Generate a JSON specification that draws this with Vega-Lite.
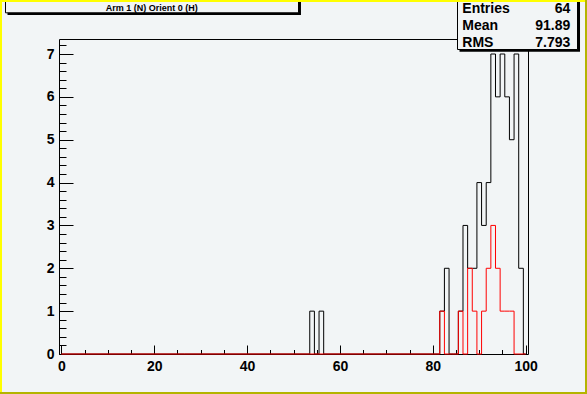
{
  "$schema": "https://vega.github.io/schema/vega-lite/v6.json",
  "width": 469,
  "height": 315,
  "autosize": {"type": "none"},
  "padding": {"left": 59, "top": 39, "right": 59, "bottom": 40},
  "background": "#f2f5f6",
  "config": {
    "view": {"stroke": "#000000", "strokeWidth": 1, "fill": null},
    "axis": {
      "labelFont": "Liberation Sans",
      "labelFontWeight": "bold",
      "labelFontSize": 14,
      "labelColor": "#000000",
      "tickColor": "#000000",
      "tickWidth": 1,
      "domain": false,
      "grid": false,
      "labelFlush": false,
      "labelOverlap": false
    }
  },
  "datasets": {
    "total": [
      {"bin": 0, "count": 0}, {"bin": 53, "count": 0}, {"bin": 54, "count": 1}, {"bin": 55, "count": 0},
      {"bin": 56, "count": 1}, {"bin": 57, "count": 0}, {"bin": 81, "count": 0}, {"bin": 82, "count": 1},
      {"bin": 83, "count": 2}, {"bin": 84, "count": 0}, {"bin": 85, "count": 0}, {"bin": 86, "count": 1},
      {"bin": 87, "count": 3}, {"bin": 88, "count": 2}, {"bin": 89, "count": 2}, {"bin": 90, "count": 4},
      {"bin": 91, "count": 3}, {"bin": 92, "count": 4}, {"bin": 93, "count": 7}, {"bin": 94, "count": 6},
      {"bin": 95, "count": 7}, {"bin": 96, "count": 6}, {"bin": 97, "count": 5}, {"bin": 98, "count": 7},
      {"bin": 99, "count": 2}, {"bin": 100, "count": 0}
    ],
    "subset": [
      {"bin": 0, "count": 0}, {"bin": 81, "count": 0}, {"bin": 82, "count": 1}, {"bin": 83, "count": 0},
      {"bin": 85, "count": 0}, {"bin": 86, "count": 1}, {"bin": 87, "count": 0}, {"bin": 88, "count": 2},
      {"bin": 89, "count": 1}, {"bin": 90, "count": 0}, {"bin": 91, "count": 1}, {"bin": 92, "count": 2},
      {"bin": 93, "count": 3}, {"bin": 94, "count": 2}, {"bin": 95, "count": 1}, {"bin": 96, "count": 1},
      {"bin": 97, "count": 1}, {"bin": 98, "count": 0}, {"bin": 100, "count": 0}
    ]
  },
  "layer": [
    {
      "data": {"name": "total"},
      "mark": {"type": "line", "interpolate": "step", "color": "#000000", "strokeWidth": 1},
      "encoding": {
        "x": {"field": "bin", "type": "quantitative", "scale": {"domain": [-0.5, 100.5], "nice": false, "zero": false},
              "axis": {"orient": "bottom", "values": [0, 20, 40, 60, 80, 100], "tickSize": -9, "labelPadding": 14, "title": null}},
        "y": {"field": "count", "type": "quantitative", "scale": {"domain": [0, 7.35], "nice": false, "zero": false},
              "axis": {"orient": "left", "values": [0, 1, 2, 3, 4, 5, 6, 7], "tickSize": -14, "labelPadding": 19, "title": null}}
      }
    },
    {
      "data": {"name": "subset"},
      "mark": {"type": "line", "interpolate": "step", "color": "#ff0000", "strokeWidth": 1},
      "encoding": {
        "x": {"field": "bin", "type": "quantitative", "scale": {"domain": [-0.5, 100.5], "nice": false, "zero": false},
              "axis": {"orient": "bottom", "values": [0, 5, 10, 15, 20, 25, 30, 35, 40, 45, 50, 55, 60, 65, 70, 75, 80, 85, 90, 95, 100], "tickSize": -4.5, "labels": false, "title": null}},
        "y": {"field": "count", "type": "quantitative", "scale": {"domain": [0, 7.35], "nice": false, "zero": false},
              "axis": {"orient": "left", "values": [0, 0.2, 0.4, 0.6, 0.8, 1, 1.2, 1.4, 1.6, 1.8, 2, 2.2, 2.4, 2.6, 2.8, 3, 3.2, 3.4, 3.6, 3.8, 4, 4.2, 4.4, 4.6, 4.8, 5, 5.2, 5.4, 5.6, 5.8, 6, 6.2, 6.4, 6.6, 6.8, 7, 7.2], "tickSize": -7, "labels": false, "title": null}}
      }
    },
    {
      "data": {"values": [{}]},
      "mark": {"type": "rect", "color": "#000000"},
      "encoding": {
        "x": {"datum": 85.75, "type": "quantitative", "scale": {"domain": [-0.5, 100.5], "nice": false, "zero": false}, "axis": null},
        "x2": {"datum": 111.7},
        "y": {"datum": 8.237, "type": "quantitative", "scale": {"domain": [0, 7.35], "nice": false, "zero": false}, "axis": null},
        "y2": {"datum": 7.054}
      }
    },
    {
      "data": {"values": [{}]},
      "mark": {"type": "rect", "color": "#f2f5f6", "stroke": "#000000", "strokeWidth": 1},
      "encoding": {
        "x": {"datum": 85.32, "type": "quantitative", "scale": {"domain": [-0.5, 100.5], "nice": false, "zero": false}, "axis": null},
        "x2": {"datum": 111.16},
        "y": {"datum": 8.283, "type": "quantitative", "scale": {"domain": [0, 7.35], "nice": false, "zero": false}, "axis": null},
        "y2": {"datum": 7.105}
      }
    },
    {
      "data": {"values": [{}]},
      "mark": {"type": "text", "text": ["Entries", "Mean", "RMS"], "font": "Liberation Sans", "fontWeight": "bold", "fontSize": 14, "lineHeight": 17, "align": "left", "baseline": "top", "color": "#000000"},
      "encoding": {
        "x": {"datum": 86.35, "type": "quantitative", "scale": {"domain": [-0.5, 100.5], "nice": false, "zero": false}, "axis": null},
        "y": {"datum": 8.22, "type": "quantitative", "scale": {"domain": [0, 7.35], "nice": false, "zero": false}, "axis": null}
      }
    },
    {
      "data": {"values": [{}]},
      "mark": {"type": "text", "text": ["64", "91.89", "7.793"], "font": "Liberation Sans", "fontWeight": "bold", "fontSize": 14, "lineHeight": 17, "align": "right", "baseline": "top", "color": "#000000"},
      "encoding": {
        "x": {"datum": 109.61, "type": "quantitative", "scale": {"domain": [-0.5, 100.5], "nice": false, "zero": false}, "axis": null},
        "y": {"datum": 8.22, "type": "quantitative", "scale": {"domain": [0, 7.35], "nice": false, "zero": false}, "axis": null}
      }
    },
    {
      "data": {"values": [{}]},
      "mark": {"type": "rect", "color": "#000000"},
      "encoding": {
        "x": {"datum": -11.59, "type": "quantitative", "scale": {"domain": [-0.5, 100.5], "nice": false, "zero": false}, "axis": null},
        "x2": {"datum": 51.61},
        "y": {"datum": 8.237, "type": "quantitative", "scale": {"domain": [0, 7.35], "nice": false, "zero": false}, "axis": null},
        "y2": {"datum": 7.91}
      }
    },
    {
      "data": {"values": [{}]},
      "mark": {"type": "rect", "color": "#f2f5f6", "stroke": "#000000", "strokeWidth": 1},
      "encoding": {
        "x": {"datum": -12.02, "type": "quantitative", "scale": {"domain": [-0.5, 100.5], "nice": false, "zero": false}, "axis": null},
        "x2": {"datum": 51.08},
        "y": {"datum": 8.283, "type": "quantitative", "scale": {"domain": [0, 7.35], "nice": false, "zero": false}, "axis": null},
        "y2": {"datum": 7.961}
      }
    },
    {
      "data": {"values": [{}]},
      "mark": {"type": "text", "text": "Arm 1 (N) Orient 0 (H)", "font": "Liberation Sans", "fontWeight": "bold", "fontSize": 9, "align": "center", "baseline": "middle", "color": "#000000"},
      "encoding": {
        "x": {"datum": 19.47, "type": "quantitative", "scale": {"domain": [-0.5, 100.5], "nice": false, "zero": false}, "axis": null},
        "y": {"datum": 8.085, "type": "quantitative", "scale": {"domain": [0, 7.35], "nice": false, "zero": false}, "axis": null}
      }
    },
    {
      "data": {"values": [{}]},
      "mark": {"type": "rect", "color": "#b4b400"},
      "encoding": {
        "x": {"datum": 112.775, "type": "quantitative", "scale": {"domain": [-0.5, 100.5], "nice": false, "zero": false}, "axis": null},
        "x2": {"datum": 113.3},
        "y": {"datum": 8.3, "type": "quantitative", "scale": {"domain": [0, 7.35], "nice": false, "zero": false}, "axis": null},
        "y2": {"datum": -0.95}
      }
    },
    {
      "data": {"values": [{}]},
      "mark": {"type": "rect", "color": "#b4b400"},
      "encoding": {
        "x": {"datum": -13.3, "type": "quantitative", "scale": {"domain": [-0.5, 100.5], "nice": false, "zero": false}, "axis": null},
        "x2": {"datum": 113.3},
        "y": {"datum": -0.887, "type": "quantitative", "scale": {"domain": [0, 7.35], "nice": false, "zero": false}, "axis": null},
        "y2": {"datum": -0.95}
      }
    },
    {
      "data": {"values": [{}]},
      "mark": {"type": "rect", "color": "#ffff00"},
      "encoding": {
        "x": {"datum": -13.3, "type": "quantitative", "scale": {"domain": [-0.5, 100.5], "nice": false, "zero": false}, "axis": null},
        "x2": {"datum": -12.775},
        "y": {"datum": 8.3, "type": "quantitative", "scale": {"domain": [0, 7.35], "nice": false, "zero": false}, "axis": null},
        "y2": {"datum": -0.887}
      }
    },
    {
      "data": {"values": [{}]},
      "mark": {"type": "rect", "color": "#ffff00"},
      "encoding": {
        "x": {"datum": -13.3, "type": "quantitative", "scale": {"domain": [-0.5, 100.5], "nice": false, "zero": false}, "axis": null},
        "x2": {"datum": 112.775},
        "y": {"datum": 8.3, "type": "quantitative", "scale": {"domain": [0, 7.35], "nice": false, "zero": false}, "axis": null},
        "y2": {"datum": 8.213}
      }
    }
  ],
  "resolve": {"axis": {"x": "independent", "y": "independent"}}
}
